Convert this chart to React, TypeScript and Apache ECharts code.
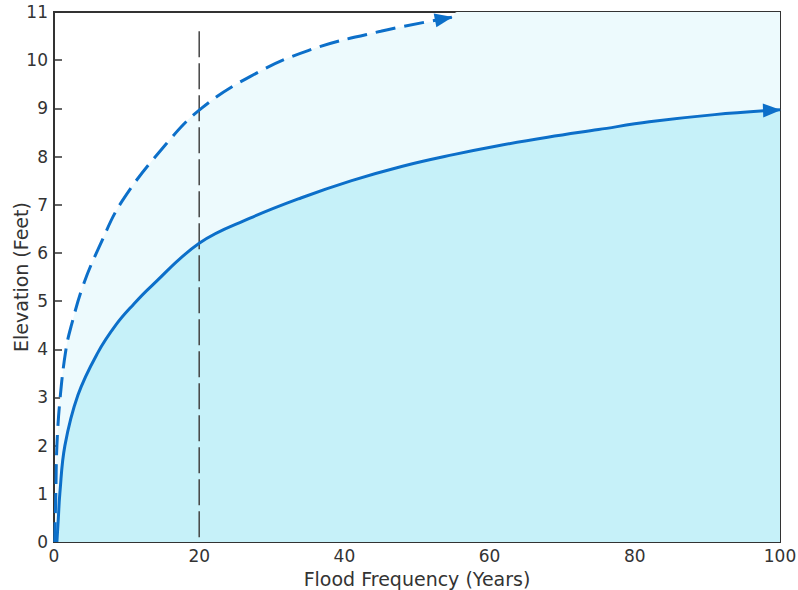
import React, { useEffect, useRef } from "react";
import * as echarts from "echarts";

// Flood frequency (years) vs elevation (feet)
const solidCurve: [number, number][] = [
  [0.4, 0], [0.6, 0.5], [0.8, 1], [1.5, 2], [3.3, 3.05], [6, 3.92], [8.6, 4.52], [11, 4.94],
  [13.2, 5.28], [20, 6.2], [27, 6.72], [34, 7.14], [41, 7.5], [48, 7.8], [55, 8.04],
  [61, 8.22], [68, 8.4], [75, 8.56], [82, 8.72], [91, 8.87], [100, 8.97],
];
const dashedCurve: [number, number][] = [
  [0.1, 0], [0.25, 1], [0.4, 2], [0.85, 3], [1.65, 4], [2.4, 4.5], [4, 5.32], [6.3, 6.15],
  [9.4, 7.08], [15.5, 8.27], [20.3, 9.0], [27, 9.66], [35, 10.2], [45, 10.6], [54.8, 10.89],
];
const upperFillTail: [number, number][] = [[55.5, 11], [100, 11]];
const markerLine: [number, number][] = [[20, 0.1], [20, 10.7]];
const solidArrow = { at: [98.9, 8.96], rotate: -88 };
const dashedArrow = { at: [53.7, 10.86], rotate: -79 };

const BLUE = "#0c6fc9";
const FONT = "DejaVu Sans";
const TEXT = "#333";

export default function App() {
  const ref = useRef<HTMLDivElement>(null);
  useEffect(() => {
    const chart = echarts.init(ref.current!, null, { renderer: "svg" });
    chart.setOption({
      animation: false,
      grid: {
        left: 54, right: 18, top: 12, bottom: 48, outerBoundsMode: "none", containLabel: false,
        show: true, borderColor: "#333", borderWidth: 2, backgroundColor: "#ffffff",
      },
      xAxis: {
        type: "value", min: 0, max: 100, interval: 20,
        name: "Flood Frequency (Years)", nameLocation: "middle", nameGap: 27, nameMoveOverlap: false,
        nameTextStyle: { fontFamily: FONT, fontSize: 19, color: TEXT },
        axisLine: { lineStyle: { color: "#333", width: 2 } },
        axisTick: { inside: true, length: 8, lineStyle: { color: "#333", width: 1.5 } },
        axisLabel: { fontFamily: FONT, fontSize: 17, color: TEXT, margin: 5 },
        splitLine: { show: false },
      },
      yAxis: {
        type: "value", min: 0, max: 11, interval: 1,
        name: "Elevation (Feet)", nameLocation: "middle", nameGap: 24, nameMoveOverlap: false,
        nameTextStyle: { fontFamily: FONT, fontSize: 19, color: TEXT },
        axisLine: { lineStyle: { color: "#333", width: 2 } },
        axisTick: { inside: true, length: 8, lineStyle: { color: "#333", width: 1.5 } },
        axisLabel: { fontFamily: FONT, fontSize: 17, color: TEXT, margin: 6 },
        splitLine: { show: false },
      },
      series: [
        {
          type: "line", data: [...dashedCurve, ...upperFillTail], smooth: 0.4,
          symbol: "none", lineStyle: { opacity: 0 }, areaStyle: { color: "#edfafd", opacity: 1 },
          silent: true, z: 1,
        },
        {
          type: "line", data: solidCurve, smooth: 0.4,
          symbol: "none", lineStyle: { opacity: 0 }, areaStyle: { color: "#c6f1f9", opacity: 1 },
          silent: true, z: 2,
        },
        {
          type: "line", data: markerLine, symbol: "none",
          lineStyle: { color: "#444", width: 1.5, type: [26, 6] }, z: 3,
        },
        {
          type: "line", data: solidCurve, smooth: 0.4, symbol: "none",
          lineStyle: { color: BLUE, width: 3 }, z: 4,
          markPoint: {
            symbol: "triangle", symbolSize: [14, 18], symbolRotate: solidArrow.rotate,
            itemStyle: { color: BLUE }, label: { show: false },
            data: [{ coord: solidArrow.at }],
          },
        },
        {
          type: "line", data: dashedCurve, smooth: 0.4, symbol: "none",
          lineStyle: { color: BLUE, width: 3, type: [20, 9] }, z: 4,
          markPoint: {
            symbol: "triangle", symbolSize: [14, 18], symbolRotate: dashedArrow.rotate,
            itemStyle: { color: BLUE }, label: { show: false },
            data: [{ coord: dashedArrow.at }],
          },
        },
      ],
    });
    return () => chart.dispose();
  }, []);
  return <div ref={ref} style={{ width: 798, height: 590, position: "absolute", left: 0, top: 0 }} />;
}
